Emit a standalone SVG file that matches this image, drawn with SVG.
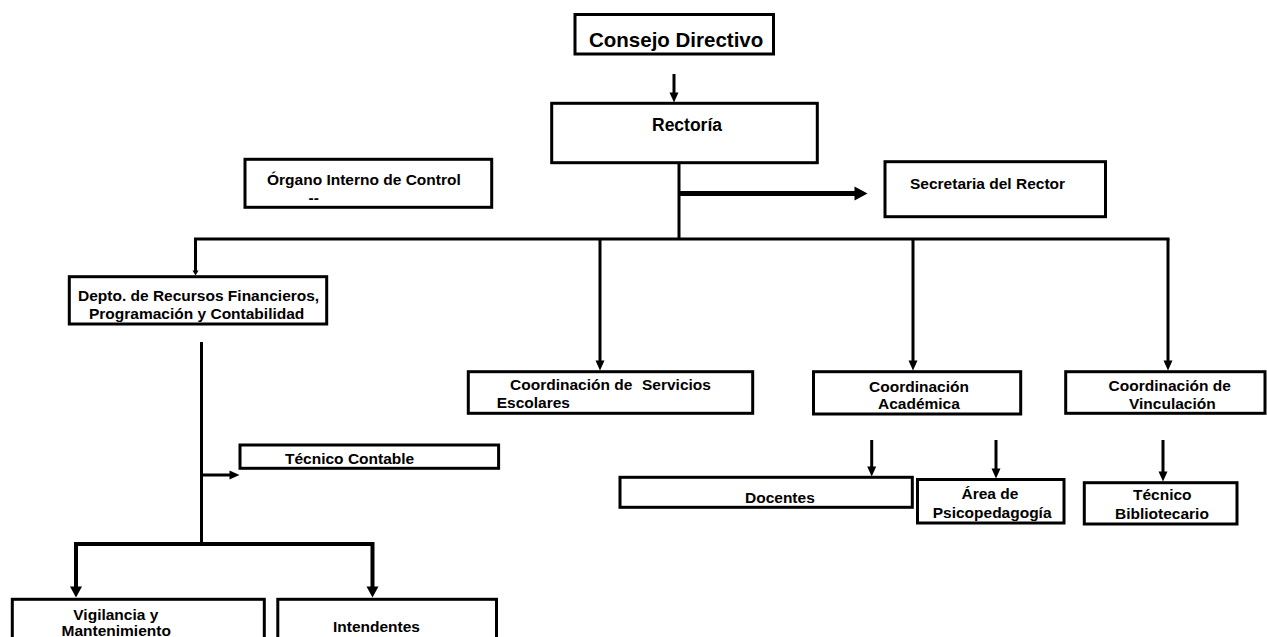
<svg xmlns="http://www.w3.org/2000/svg" width="1267" height="637" viewBox="0 0 1267 637">
<style>
.box{fill:#fff;stroke:#000;stroke-width:3}
.t{font-family:"Liberation Sans",Arial,sans-serif;font-weight:bold;font-size:15.5px;fill:#000}
.ln{fill:none;stroke:#000;stroke-width:3}
.ln4{fill:none;stroke:#000;stroke-width:4}
.thick{fill:none;stroke:#000;stroke-width:5}
</style>
<defs>
<marker id="ah" markerUnits="userSpaceOnUse" markerWidth="10" markerHeight="10" refX="0.5" refY="4.5" orient="auto" overflow="visible"><path d="M0,0 L10,4.5 L0,9 z" fill="#000"/></marker>
<marker id="ahs" markerUnits="userSpaceOnUse" markerWidth="6" markerHeight="6" refX="0.5" refY="3" orient="auto" overflow="visible"><path d="M0,0 L5,3 L0,6 z" fill="#000"/></marker>
<marker id="ahb" markerUnits="userSpaceOnUse" markerWidth="13" markerHeight="14" refX="0.5" refY="7" orient="auto" overflow="visible"><path d="M0,0 L13,7 L0,14 z" fill="#000"/></marker>
<marker id="ahm" markerUnits="userSpaceOnUse" markerWidth="12" markerHeight="12" refX="0.5" refY="6" orient="auto" overflow="visible"><path d="M0,0 L11,6 L0,12 z" fill="#000"/></marker>
</defs>
<rect width="1267" height="637" fill="#fff"/>
<g id="connectors">
<line class="ln" x1="674" y1="74" x2="674" y2="93" marker-end="url(#ah)"/>
<line class="ln" x1="679" y1="162" x2="679" y2="240"/>
<line class="thick" x1="679" y1="193.5" x2="855" y2="193.5" marker-end="url(#ahb)"/>
<line class="ln" x1="194" y1="239" x2="1169.5" y2="239"/>
<line class="ln" x1="195.5" y1="239" x2="195.5" y2="271" marker-end="url(#ahs)"/>
<line class="ln" x1="600" y1="239" x2="600" y2="361" marker-end="url(#ah)"/>
<line class="ln" x1="913" y1="239" x2="913" y2="361" marker-end="url(#ah)"/>
<line class="ln" x1="1168" y1="239" x2="1168" y2="361" marker-end="url(#ah)"/>
<line class="ln" x1="201.5" y1="342" x2="201.5" y2="545"/>
<line class="ln" x1="201.5" y1="475" x2="230" y2="475" marker-end="url(#ah)"/>
<line class="ln4" x1="74" y1="544" x2="374" y2="544"/>
<line class="ln4" x1="76" y1="542" x2="76" y2="587" marker-end="url(#ahm)"/>
<line class="ln4" x1="372.5" y1="542" x2="372.5" y2="587" marker-end="url(#ahm)"/>
<line class="ln" x1="871.7" y1="440" x2="871.7" y2="467" marker-end="url(#ah)"/>
<line class="ln" x1="996" y1="440" x2="996" y2="469" marker-end="url(#ah)"/>
<line class="ln" x1="1163" y1="440" x2="1163" y2="472" marker-end="url(#ah)"/>
</g>
<g id="consejo">
<rect class="box" x="575" y="14.5" width="198.5" height="39.5"/>
<text class="t" style="font-size:20.5px" x="589" y="47">Consejo Directivo</text>
</g>
<g id="rectoria">
<rect class="box" x="551.7" y="103.3" width="265.6" height="59.4"/>
<text class="t" style="font-size:17.5px" x="652" y="131">Rectoría</text>
</g>
<g id="organo">
<rect class="box" x="245" y="159.3" width="246.7" height="48"/>
<text class="t" x="267" y="185">Órgano Interno de Control</text>
<text class="t" x="308.5" y="203">--</text>
</g>
<g id="secretaria">
<rect class="box" x="885" y="161.7" width="220.5" height="55"/>
<text class="t" x="910" y="188.5">Secretaria del Rector</text>
</g>
<g id="depto">
<rect class="box" x="69.3" y="276.7" width="257.4" height="47.3"/>
<text class="t" x="78" y="300.5">Depto. de Recursos Financieros,</text>
<text class="t" x="89" y="318.5">Programación y Contabilidad</text>
</g>
<g id="servicios">
<rect class="box" x="468.3" y="371.7" width="284.4" height="41.6"/>
<text class="t" x="510" y="390">Coordinación de</text>
<text class="t" x="642" y="390">Servicios</text>
<text class="t" x="496.7" y="408.3">Escolares</text>
</g>
<g id="academica">
<rect class="box" x="813.5" y="371.7" width="207.2" height="42.3"/>
<text class="t" x="869" y="391.5">Coordinación</text>
<text class="t" x="878" y="409">Académica</text>
</g>
<g id="vinculacion">
<rect class="box" x="1065.7" y="371.7" width="199.3" height="41.6"/>
<text class="t" x="1108.5" y="391">Coordinación de</text>
<text class="t" x="1129" y="409">Vinculación</text>
</g>
<g id="tecnico-contable">
<rect class="box" x="240" y="445" width="258.6" height="23.3"/>
<text class="t" x="285" y="464">Técnico Contable</text>
</g>
<g id="docentes">
<rect class="box" x="620" y="477.3" width="292.3" height="30"/>
<text class="t" x="745" y="503">Docentes</text>
</g>
<g id="psicopedagogia">
<rect class="box" x="917.5" y="479.5" width="146.5" height="43.5"/>
<text class="t" x="961.5" y="499">Área de</text>
<text class="t" x="932.7" y="518">Psicopedagogía</text>
</g>
<g id="bibliotecario">
<rect class="box" x="1084.3" y="482.7" width="152.7" height="41.3"/>
<text class="t" x="1133" y="500">Técnico</text>
<text class="t" x="1115" y="519">Bibliotecario</text>
</g>
<g id="vigilancia">
<rect class="box" x="12.3" y="599.3" width="252" height="50"/>
<text class="t" x="73.3" y="620">Vigilancia y</text>
<text class="t" x="61.5" y="636">Mantenimiento</text>
</g>
<g id="intendentes">
<rect class="box" x="277.8" y="599.3" width="218.7" height="50"/>
<text class="t" x="333" y="631.7">Intendentes</text>
</g>
</svg>
